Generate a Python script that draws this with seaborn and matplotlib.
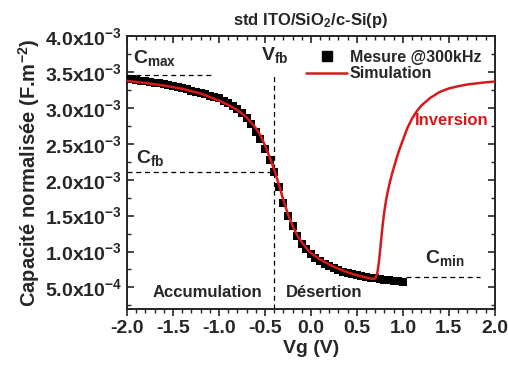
import numpy as np
import pandas as pd
import seaborn as sns
import matplotlib.pyplot as plt
from matplotlib.ticker import MultipleLocator, FixedLocator, FuncFormatter
from matplotlib.lines import Line2D

# measured C-V at 300 kHz (C in 1e-3 F.m-2)
vg_mes = [-2.00, -1.95, -1.90, -1.85, -1.80, -1.75, -1.70, -1.65, -1.60, -1.55,
          -1.50, -1.45, -1.40, -1.35, -1.30, -1.25, -1.20, -1.15, -1.10, -1.05,
          -1.00, -0.95, -0.90, -0.85, -0.80, -0.75, -0.70, -0.65, -0.60, -0.55,
          -0.50, -0.45, -0.40, -0.35, -0.30, -0.25, -0.20, -0.15, -0.10, -0.05,
          0.00, 0.05, 0.10, 0.15, 0.20, 0.25, 0.30, 0.35, 0.40, 0.45,
          0.50, 0.55, 0.60, 0.65, 0.70, 0.75, 0.80, 0.85, 0.90, 0.95, 1.00]
c_mes = [3.40, 3.395, 3.39, 3.38, 3.37, 3.36, 3.35, 3.34, 3.33, 3.315,
         3.30, 3.29, 3.27, 3.255, 3.24, 3.225, 3.21, 3.19, 3.17, 3.15,
         3.13, 3.10, 3.07, 3.03, 2.99, 2.93, 2.86, 2.77, 2.67, 2.56,
         2.42, 2.27, 2.11, 1.90, 1.68, 1.50, 1.35, 1.21, 1.11, 1.03,
         0.96, 0.91, 0.865, 0.83, 0.795, 0.765, 0.74, 0.72, 0.70, 0.685,
         0.67, 0.655, 0.645, 0.635, 0.625, 0.615, 0.605, 0.60, 0.59, 0.585, 0.575]

# simulation
vg_sim = [-2.0, -1.8, -1.6, -1.4, -1.2, -1.0, -0.9, -0.8, -0.7, -0.6,
          -0.55, -0.5, -0.45, -0.4, -0.35, -0.3, -0.25, -0.2, -0.15, -0.1,
          -0.05, 0.0, 0.1, 0.2, 0.3, 0.4, 0.5, 0.6, 0.64, 0.67,
          0.69, 0.70, 0.71, 0.72, 0.73, 0.74, 0.75, 0.76, 0.77, 0.78,
          0.79, 0.80, 0.82, 0.84, 0.86, 0.88, 0.90, 0.93, 0.96, 1.00,
          1.05, 1.10, 1.15, 1.20, 1.30, 1.40, 1.50, 1.60, 1.70, 1.80,
          1.90, 2.00]
c_sim = [3.375, 3.345, 3.31, 3.265, 3.20, 3.10, 3.04, 2.97, 2.87, 2.72,
         2.62, 2.48, 2.32, 2.14, 1.94, 1.72, 1.52, 1.36, 1.23, 1.13,
         1.05, 0.98, 0.89, 0.82, 0.76, 0.71, 0.67, 0.64, 0.627, 0.62,
         0.622, 0.63, 0.65, 0.69, 0.76, 0.86, 0.98, 1.11, 1.24, 1.36,
         1.47, 1.57, 1.73, 1.86, 1.97, 2.07, 2.16, 2.29, 2.41, 2.55,
         2.72, 2.85, 2.95, 3.03, 3.14, 3.22, 3.27, 3.30, 3.325, 3.34,
         3.355, 3.365]

y_ticks = [0.5e-3, 1.0e-3, 1.5e-3, 2.0e-3, 2.5e-3, 3.0e-3, 3.5e-3, 4.0e-3]

c_max = 3.46e-3
c_fb = 2.11e-3
c_min = 0.64e-3
v_fb = -0.40

mes = pd.DataFrame({"Vg": vg_mes, "C": np.array(c_mes) * 1e-3})
sim = pd.DataFrame({"Vg": vg_sim, "C": np.array(c_sim) * 1e-3})

sns.set_theme(style="ticks")
plt.rcParams['font.family'] = ['Liberation Sans', 'DejaVu Sans']
plt.rcParams['font.weight'] = 'bold'
plt.rcParams['mathtext.fontset'] = 'custom'
plt.rcParams['mathtext.rm'] = 'Liberation Sans:bold'
plt.rcParams['mathtext.it'] = 'Liberation Sans:bold'
plt.rcParams['mathtext.bf'] = 'Liberation Sans:bold'
plt.rcParams['mathtext.default'] = 'rm'

red = "#d7191c"

fig = plt.figure(figsize=(5.08, 3.67), dpi=100)
ax = fig.add_axes([0.25, 0.158, 0.724, 0.744])

sns.scatterplot(data=mes, x="Vg", y="C", marker="s", s=40, color="black",
                linewidth=0, ax=ax, zorder=3)
sns.lineplot(data=sim, x="Vg", y="C", color=red, linewidth=1.8, ax=ax,
             zorder=4)

dash = dict(color="black", linestyle=(0, (4, 3)), linewidth=0.9, zorder=2)
ax.plot([-2.0, -1.065], [c_max, c_max], **dash)
ax.plot([-2.0, v_fb], [c_fb, c_fb], **dash)
ax.plot([v_fb, v_fb], [0.2e-3, c_max], **dash)
ax.plot([1.03, 1.84], [c_min, c_min], **dash)

ax.set_xlim(-2.0, 2.0)
ax.set_ylim(0.2e-3, 4.0e-3)
ax.xaxis.set_major_locator(MultipleLocator(0.5))
ax.xaxis.set_minor_locator(MultipleLocator(0.1))
ax.yaxis.set_major_locator(FixedLocator(y_ticks))
ax.yaxis.set_minor_locator(MultipleLocator(0.25e-3))


def sci(v, pos):
    exp = int(np.floor(np.log10(v) + 1e-9))
    return "%.1fx10$^{%d}$" % (v / 10 ** exp, exp)


ax.yaxis.set_major_formatter(FuncFormatter(sci))
ax.xaxis.set_major_formatter(FuncFormatter(lambda v, p: "%.1f" % v))

ax.tick_params(axis="x", which="both", direction="out", top=True, labelsize=14)
ax.tick_params(axis="y", which="both", direction="in", right=True, labelsize=14)
ax.tick_params(which="major", length=5, width=1.2)
ax.tick_params(which="minor", length=3, width=1.0)
ax.tick_params(axis="x", which="both", labeltop=False, pad=3)
for t in ax.xaxis.get_major_ticks() + ax.xaxis.get_minor_ticks():
    t.tick2line.set_marker(3)
for sp in ax.spines.values():
    sp.set_visible(True)
    sp.set_linewidth(1.4)

ax.set_xlabel("Vg (V)", fontsize=14, fontweight="bold", labelpad=2)
ax.set_ylabel("Capacité normalisée (F.m$^{-2}$)", fontsize=14.5,
              fontweight="bold", labelpad=2)
ax.set_title("std ITO/SiO$_{2}$/c-Si(p)", fontsize=12, fontweight="bold", pad=8)

ax.text(-1.93, 3.625e-3, "C$_{max}$", fontsize=14, va="baseline")
ax.text(-0.54, 3.667e-3, "V$_{fb}$", fontsize=14, va="baseline")
ax.text(-1.90, 2.236e-3, "C$_{fb}$", fontsize=14, va="baseline")
ax.text(1.24, 0.847e-3, "C$_{min}$", fontsize=14, va="baseline")
ax.text(1.13, 2.83e-3, "Inversion", fontsize=12, color=red,
        va="center", fontweight="bold")
ax.text(-1.72, 0.43e-3, "Accumulation", fontsize=12, va="center",
        fontweight="bold")
ax.text(-0.27, 0.43e-3, "Désertion", fontsize=12, va="center",
        fontweight="bold")

handles = [Line2D([], [], marker="s", color="black", linestyle="none",
                  markersize=6.5),
           Line2D([], [], color=red, linewidth=1.8)]
ax.legend(handles, ["Mesure @300kHz", "Simulation"], loc="upper right",
          frameon=False, handlelength=2.6, handletextpad=0.15,
          labelspacing=0.1, borderaxespad=0.45,
          prop={"weight": "bold", "size": 11.5})

fig.savefig("out.png", dpi=100)
